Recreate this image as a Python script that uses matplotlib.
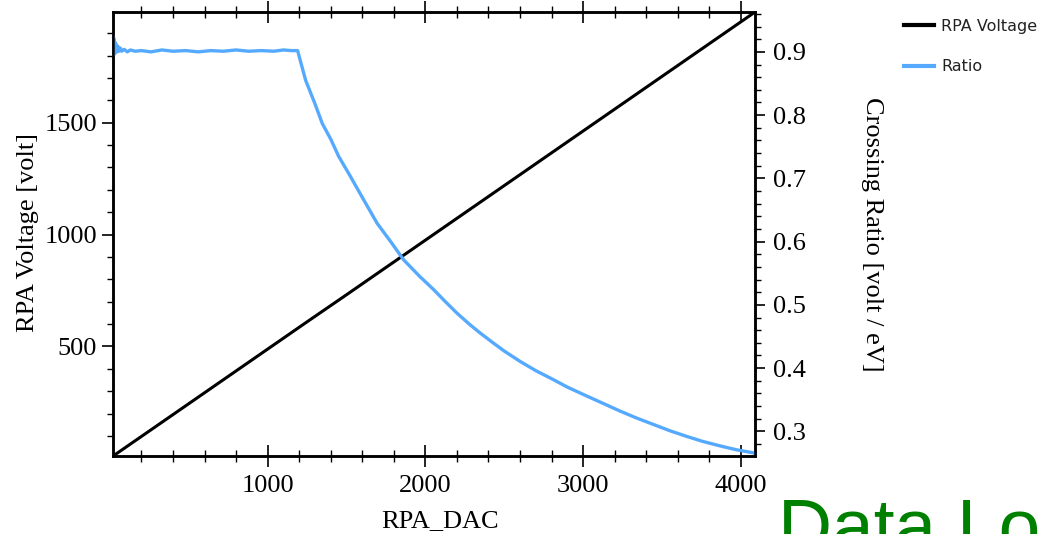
import matplotlib
matplotlib.use('Agg')
import matplotlib.pyplot as plt
from matplotlib.ticker import MultipleLocator

# RPA voltage vs DAC
dac_volt = [20, 250, 500, 750, 1000, 1250, 1500, 1750, 2000, 2250,
            2500, 2750, 3000, 3250, 3500, 3750, 4000, 4090]
volt = [10, 122, 244, 366, 488, 610, 731, 853, 975, 1097,
        1219, 1341, 1463, 1585, 1707, 1829, 1951, 1995]

# crossing ratio vs DAC
dac_ratio = [20, 22, 24, 26, 28, 30, 33, 36, 40, 45, 50, 58, 66, 75, 90,
             110, 130, 160, 200, 260, 330, 400, 480, 560, 640, 720, 800,
             880, 960, 1040, 1100, 1150, 1190,
             1241, 1300, 1346, 1400, 1450, 1525, 1600, 1694, 1780, 1863,
             1964, 2053, 2123, 2200, 2281, 2350, 2429, 2500, 2598, 2700,
             2810, 2900, 3022, 3120, 3235, 3340, 3445, 3550, 3657, 3760,
             3869, 3970, 4080, 4090]
ratio = [0.925, 0.895, 0.922, 0.896, 0.918, 0.897, 0.915, 0.899, 0.912,
         0.900, 0.909, 0.901, 0.906, 0.901, 0.904, 0.900, 0.903, 0.901,
         0.902, 0.900, 0.903, 0.901, 0.902, 0.900, 0.902, 0.901, 0.903,
         0.901, 0.902, 0.901, 0.903, 0.902, 0.902,
         0.855, 0.818, 0.787, 0.762, 0.735, 0.703, 0.670, 0.629, 0.600,
         0.571, 0.545, 0.524, 0.506, 0.487, 0.469, 0.455, 0.440, 0.427,
         0.411, 0.396, 0.382, 0.370, 0.356, 0.345, 0.332, 0.321, 0.311,
         0.301, 0.292, 0.284, 0.277, 0.271, 0.266, 0.265]

serif = 'Liberation Serif'
plt.rcParams['font.family'] = serif
fs = 19

fig = plt.figure(figsize=(10.39, 5.34), dpi=100)
ax = fig.add_axes([0.1088, 0.146, 0.6179, 0.8315])
ax2 = ax.twinx()

l1, = ax.plot(dac_volt, volt, color='black', lw=2.2, label='RPA Voltage')
l2, = ax2.plot(dac_ratio, ratio, color='#55aaff', lw=2.4, label='Ratio')

ax.set_xlim(20, 4090)
ax.set_ylim(10, 1995)
ax2.set_ylim(0.261, 0.963)

ax.xaxis.set_major_locator(MultipleLocator(1000))
ax.xaxis.set_minor_locator(MultipleLocator(200))
ax.yaxis.set_major_locator(MultipleLocator(500))
ax.yaxis.set_minor_locator(MultipleLocator(100))
ax2.yaxis.set_major_locator(MultipleLocator(0.1))
ax2.yaxis.set_minor_locator(MultipleLocator(0.02))

for a in (ax, ax2):
    for s in a.spines.values():
        s.set_linewidth(1.8)

ax.tick_params(axis='x', which='major', direction='inout', length=15.8,
               width=1.2, labelsize=fs, pad=6, top=True)
ax.tick_params(axis='x', which='minor', direction='inout', length=8.6,
               width=1.0, top=True)
ax.tick_params(axis='y', which='major', direction='out', length=7.9,
               width=1.2, labelsize=fs, pad=3.6)
ax.tick_params(axis='y', which='minor', direction='out', length=4.3,
               width=1.0)
ax2.tick_params(axis='y', which='major', direction='out', length=7.2,
                width=1.2, labelsize=fs, pad=5.8)
ax2.tick_params(axis='y', which='minor', direction='out', length=4.3,
                width=1.0)

ax.set_xlabel('RPA_DAC', fontsize=fs)
ax.set_ylabel('RPA Voltage [volt]', fontsize=fs)
ax2.set_ylabel('Crossing Ratio [volt / eV]', fontsize=fs, rotation=270,
               ha='center', va='center')
ax.xaxis.set_label_coords(0.509, -0.122)
ax.yaxis.set_label_coords(-0.116, 0.504)
ax2.yaxis.set_label_coords(1.182, 0.5)

leg = fig.legend(handles=[l1, l2], loc='upper left',
                 bbox_to_anchor=(0.870, 0.965), frameon=False, borderpad=0,
                 borderaxespad=0, handlelength=1.9, handletextpad=0.42,
                 labelspacing=1.6,
                 prop={'family': 'DejaVu Sans', 'size': 11.5})
for h in leg.legend_handles:
    h.set_linewidth(3)
for t in leg.get_texts():
    t.set_color('#222222')

fig.text(778 / 1039, 1 - 497 / 534, 'Data Log', color='#008000',
         fontsize=54, family='Liberation Sans', va='top', ha='left')

plt.savefig('out.png', dpi=100)
